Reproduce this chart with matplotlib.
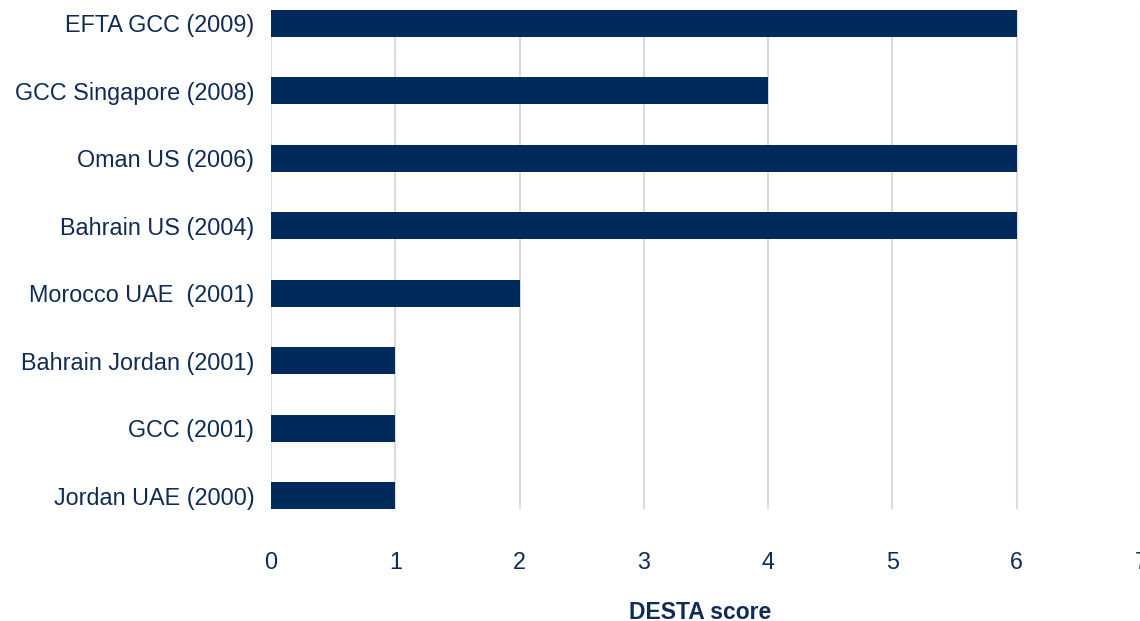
"""Horizontal bar chart of DESTA scores for trade agreements."""

import matplotlib
matplotlib.use("Agg")
import matplotlib.pyplot as plt

# data, bottom to top
agreements = [
    "Jordan UAE (2000)",
    "GCC (2001)",
    "Bahrain Jordan (2001)",
    "Morocco UAE  (2001)",
    "Bahrain US (2004)",
    "Oman US (2006)",
    "GCC Singapore (2008)",
    "EFTA GCC (2009)",
]
desta_scores = [1, 1, 1, 2, 6, 6, 4, 6]
x_ticks = [0, 1, 2, 3, 4, 5, 6, 7]

BAR_COLOR = "#002a5c"
TEXT_COLOR = "#0e2c57"
FONT = "Liberation Sans"


def main():
    fig = plt.figure(figsize=(11.4, 6.21), dpi=100)
    W, H = 1140, 621
    ax = fig.add_axes([271 / W, (H - 509) / H, 870 / W, 499 / H])

    ypos = list(range(len(agreements)))
    ax.barh(ypos, desta_scores, height=0.4, color=BAR_COLOR, zorder=3)

    ax.set_xlim(0, 7)
    ax.set_ylim(-0.2, len(agreements) - 0.8)
    ax.set_xticks(x_ticks)
    ax.set_xticklabels([str(t) for t in x_ticks])
    ax.set_yticks(ypos)
    ax.set_yticklabels(agreements)

    for lab in ax.get_xticklabels() + ax.get_yticklabels():
        lab.set_fontfamily(FONT)
        lab.set_fontsize(16.8)
        lab.set_color(TEXT_COLOR)

    ax.tick_params(axis="both", length=0)
    ax.tick_params(axis="x", pad=30)
    ax.tick_params(axis="y", pad=12)

    ax.grid(True, axis="x", color="#dcdcdc", linewidth=1.5, zorder=0)
    ax.grid(False, axis="y")
    for s in ax.spines.values():
        s.set_visible(False)

    ax.set_xlabel("DESTA score", fontfamily=FONT, fontsize=16.5,
                  fontweight="bold", color=TEXT_COLOR)
    ax.xaxis.set_label_coords((700 - 271) / 870, -(601 - 509) / 499)

    fig.savefig("out.png", dpi=100)
    plt.close(fig)


if __name__ == "__main__":
    main()
